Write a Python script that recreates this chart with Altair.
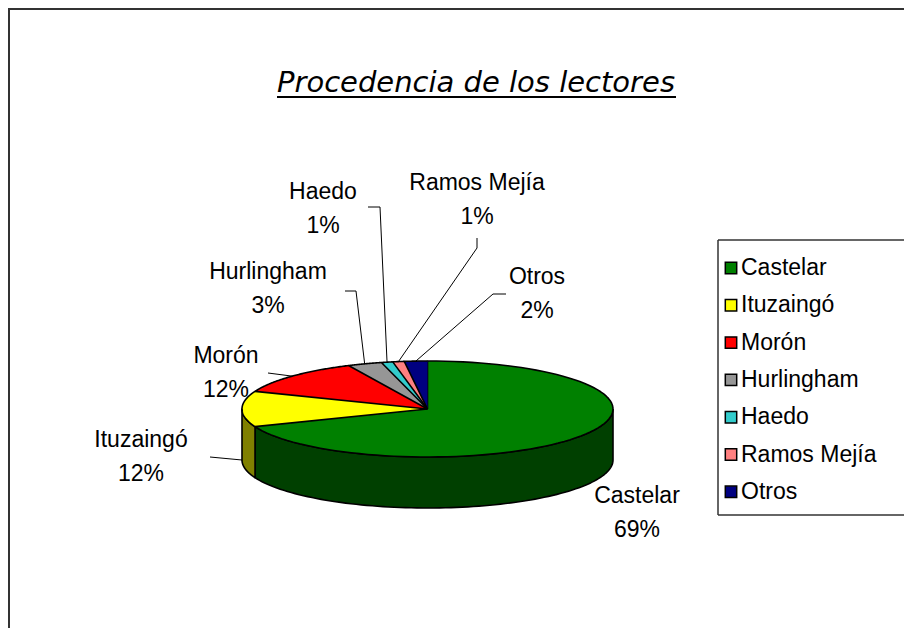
import altair as alt
import pandas as pd

# ---- data ----
cats = ["Castelar", "Ituzaingó", "Morón", "Hurlingham", "Haedo", "Ramos Mejía", "Otros"]
values = [69, 12, 12, 3, 1, 1, 2]
top_colors = ["#008000", "#FFFF00", "#FF0000", "#969696", "#33CCCC", "#FF8080", "#000080"]
side_colors = ["#004000", "#808000", "#800000", "#4B4B4B", "#1A6666", "#804040", "#000040"]
title_text = "Procedencia de los lectores"

# ---- layout (page pixels, converted to plot-area pixels) ----
OX, OY = 8, 8
W, H = 896, 620
px_ = lambda v: v - OX
py_ = lambda v: v - OY
CX, CY, A, B, D = px_(427.5), py_(409.0), 185.5, 48.0, 51.0
N = 90
FS = 23

label_pos = pd.DataFrame({
    "cat": cats,
    "tx": [px_(v) for v in [637, 141, 226, 268, 323, 477, 537]],
    "ty": [py_(v) for v in [496, 440, 356, 272, 192, 183, 277]],
})
leader_pos = pd.DataFrame({
    "cat": ["Ituzaingó", "Morón", "Hurlingham", "Haedo", "Ramos Mejía", "Otros"],
    "x0": [px_(v) for v in [210, 268, 345, 368, 477, 506]],
    "y0": [py_(v) for v in [457, 373, 291, 207, 238, 294]],
    "x1": [px_(v) for v in [210, 268, 356, 380, 477, 493]],
    "y1": [py_(v) for v in [457, 373, 291, 207, 248, 294]],
    "onside": [1, 0, 0, 0, 0, 0],
})
LEG_Y0, LEG_DY = py_(268), 37.3
LEG_L, LEG_T, LEG_B = px_(718), py_(240), py_(515)

df = pd.DataFrame({"cat": cats, "val": values, "idx": list(range(len(cats))),
                   "top": top_colors, "side": side_colors})

sx = alt.Scale(domain=[0, W], range=[0, W])
sy = alt.Scale(domain=[0, H], range=[0, H])
X = lambda f: alt.X(f, type="quantitative", scale=sx, axis=None)
Y = lambda f: alt.Y(f, type="quantitative", scale=sy, axis=None)

base = (
    alt.Chart(df)
    .transform_joinaggregate(total="sum(val)")
    .transform_window(cum="sum(val)", sort=[alt.SortField("idx")], frame=[None, 0])
    .transform_calculate(
        a0="2*PI*(datum.cum-datum.val)/datum.total",
        a1="2*PI*datum.cum/datum.total",
    )
)

# side walls (front half only)
side = (
    base.transform_calculate(s0="max(datum.a0, PI/2)", s1="min(datum.a1, 3*PI/2)")
    .transform_filter("datum.s1 > datum.s0")
    .transform_calculate(k=f"sequence(0, {2 * N + 3})")
    .transform_flatten(["k"])
    .transform_calculate(
        phi=f"datum.k <= {N} ? datum.s0 + (datum.s1-datum.s0)*datum.k/{N} : "
            f"(datum.k <= {2 * N + 1} ? datum.s1 - (datum.s1-datum.s0)*(datum.k-{N + 1})/{N} : datum.s0)",
        flag=f"(datum.k > {N} && datum.k <= {2 * N + 1}) ? 1 : 0",
        px=f"{CX} + {A}*sin(datum.phi)",
        py=f"{CY} - {B}*cos(datum.phi) + {D}*datum.flag",
    )
    .mark_line(stroke="black", strokeWidth=1.6, strokeJoin="round")
    .encode(x=X("px"), y=Y("py"), fill=alt.Fill("side:N", scale=None),
            order=alt.Order("k:Q"), detail="cat:N")
)

# top faces
top = (
    base.transform_calculate(k=f"sequence(0, {N + 2})")
    .transform_flatten(["k"])
    .transform_calculate(
        phi=f"datum.a0 + (datum.a1-datum.a0)*(datum.k-1)/{N}",
        px=f"datum.k == 0 ? {CX} : {CX} + {A}*sin(datum.phi)",
        py=f"datum.k == 0 ? {CY} : {CY} - {B}*cos(datum.phi)",
    )
    .mark_line(stroke="black", strokeWidth=1.6, strokeJoin="round")
    .encode(x=X("px"), y=Y("py"), fill=alt.Fill("top:N", scale=None),
            order=alt.Order("k:Q"), detail="cat:N")
)

# leader lines
leaders = (
    base.transform_lookup(lookup="cat", from_=alt.LookupData(data=leader_pos, key="cat",
                                                            fields=["x0", "y0", "x1", "y1", "onside"]))
    .transform_filter("isValid(datum.x0)")
    .transform_calculate(k="sequence(0, 3)")
    .transform_flatten(["k"])
    .transform_calculate(
        phi="(datum.a0 + datum.a1)/2",
        px=f"datum.k == 0 ? datum.x0 : (datum.k == 1 ? datum.x1 : {CX} + {A}*sin(datum.phi))",
        py=f"datum.k == 0 ? datum.y0 : (datum.k == 1 ? datum.y1 : {CY} - {B}*cos(datum.phi) + {D}*datum.onside)",
    )
    .mark_line(color="black", strokeWidth=1)
    .encode(x=X("px"), y=Y("py"), order=alt.Order("k:Q"), detail="cat:N")
)

# data labels
labels = (
    base.transform_lookup(lookup="cat", from_=alt.LookupData(data=label_pos, key="cat", fields=["tx", "ty"]))
    .transform_calculate(lab="datum.cat + '\\n' + round(100*datum.val/datum.total) + '%'")
    .mark_text(font="Liberation Sans", fontSize=FS, lineBreak="\n", lineHeight=34,
               align="center", baseline="middle", color="black")
    .encode(x=X("tx"), y=Y("ty"), text="lab:N")
)

# legend (box open on the right, cut by the chart edge)
frame_df = pd.DataFrame({"z": [0]})
legend_fill = alt.Chart(frame_df).mark_rect(fill="white").encode(
    x=alt.value(LEG_L), x2=alt.value(W), y=alt.value(LEG_T), y2=alt.value(LEG_B))
leg_top = alt.Chart(frame_df).mark_rule(color="#333333", strokeWidth=1.5).encode(
    x=alt.value(LEG_L), x2=alt.value(W), y=alt.value(LEG_T))
leg_bot = alt.Chart(frame_df).mark_rule(color="#333333", strokeWidth=1.5).encode(
    x=alt.value(LEG_L), x2=alt.value(W), y=alt.value(LEG_B))
leg_left = alt.Chart(frame_df).mark_rule(color="#333333", strokeWidth=1.5).encode(
    x=alt.value(LEG_L), y=alt.value(LEG_T), y2=alt.value(LEG_B))
leg_sym = (
    alt.Chart(df).transform_calculate(ly=f"{LEG_Y0} + datum.idx*{LEG_DY}")
    .mark_square(size=130, stroke="black", strokeWidth=1.5, opacity=1)
    .encode(x=alt.value(px_(731)), y=Y("ly"), fill=alt.Fill("top:N", scale=None))
)
leg_txt = (
    alt.Chart(df).transform_calculate(ly=f"{LEG_Y0} + datum.idx*{LEG_DY}")
    .mark_text(font="Liberation Sans", fontSize=FS, align="left", baseline="middle", color="black")
    .encode(x=alt.value(px_(741)), y=Y("ly"), text="cat:N")
)

# title with underline
title = alt.Chart(pd.DataFrame({"t": [title_text]})).mark_text(
    font="DejaVu Sans", fontStyle="italic", fontSize=29, align="center",
    baseline="alphabetic", color="black").encode(x=alt.value(px_(476)), y=alt.value(py_(92)), text="t:N")
underline = alt.Chart(frame_df).mark_rule(color="black", strokeWidth=2).encode(
    x=alt.value(px_(277)), x2=alt.value(px_(676)), y=alt.value(py_(97)))

# outer frame (top and left edges visible)
frame_top = alt.Chart(frame_df).mark_rule(color="#333333", strokeWidth=2).encode(
    x=alt.value(0), x2=alt.value(W), y=alt.value(1))
frame_left = alt.Chart(frame_df).mark_rule(color="#333333", strokeWidth=2).encode(
    x=alt.value(1), y=alt.value(0), y2=alt.value(H))

chart = alt.layer(
    frame_top, frame_left, title, underline,
    legend_fill, leg_top, leg_bot, leg_left, leg_sym, leg_txt,
    side, top, leaders, labels,
).properties(
    width=W, height=H, padding=0, autosize=alt.AutoSizeParams(type="none")
).configure_view(stroke=None)

chart.save("out.html", embed_options={"renderer": "svg", "actions": False})
